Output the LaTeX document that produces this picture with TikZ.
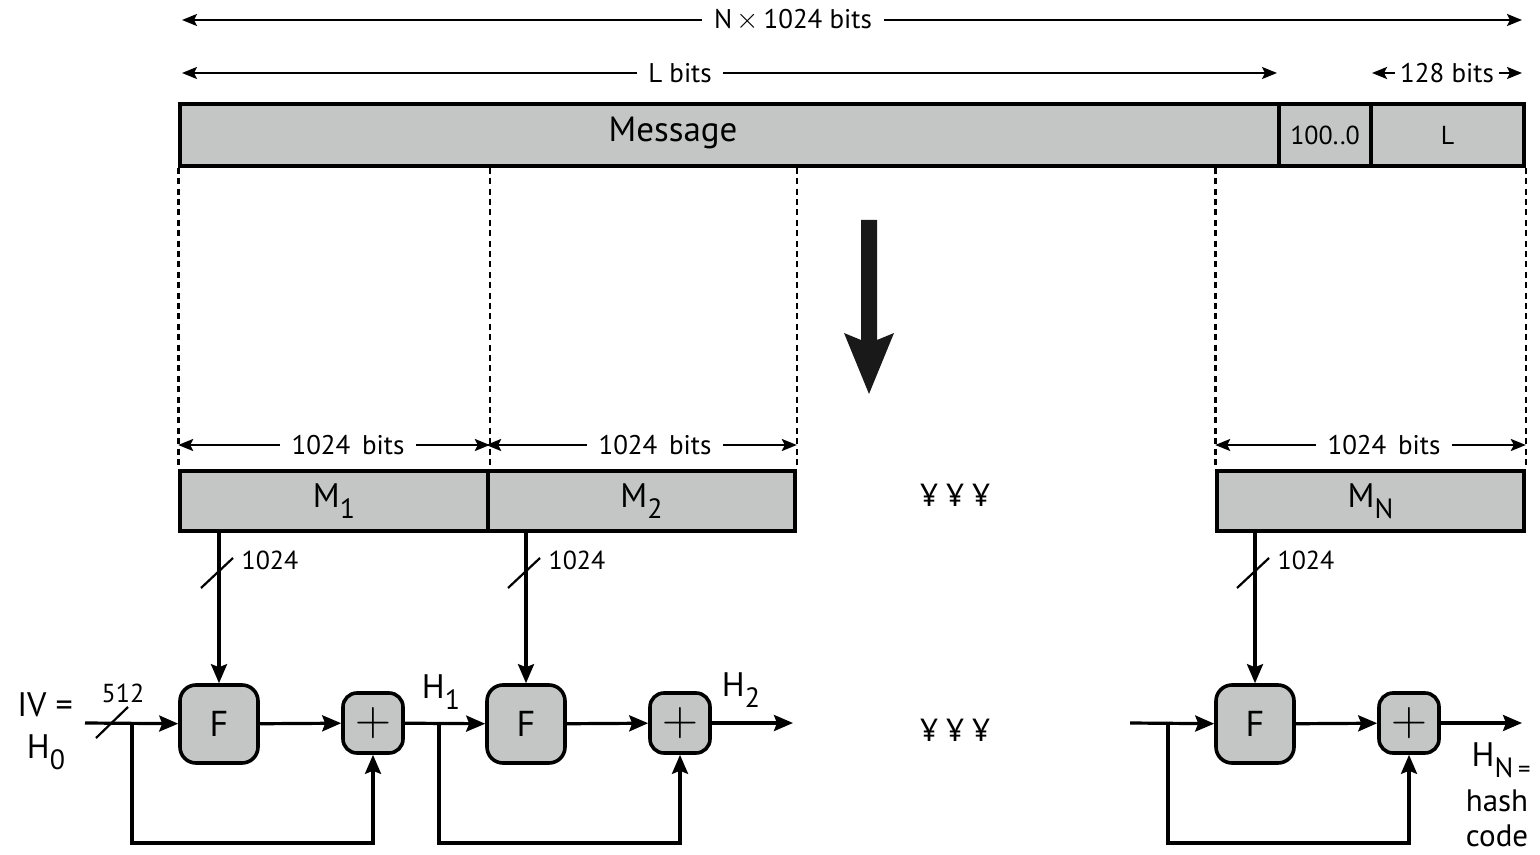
\documentclass[tikz,border=0pt]{standalone}
\usepackage{fontspec}
\setmainfont{PT Sans}
\usetikzlibrary{arrows.meta, positioning, calc}
\definecolor{boxgray}{RGB}{196,198,197}
\newcommand{\subsc}[1]{\raisebox{-0.32em}{\scalebox{0.82}{#1}}}
\newcommand{\fs}[1]{\fontsize{#1}{#1}\selectfont}

\begin{document}
\begin{tikzpicture}[x=0.5pt, y=-0.5pt, >={Stealth[length=9.5pt, width=8pt, inset=1.5pt]}, line width=1.6pt,
    blk/.style={draw, fill=boxgray, line width=1.8pt, inner sep=0pt},
    fbox/.style={draw, fill=boxgray, line width=1.8pt, rounded corners=8pt, minimum size=39pt, inner sep=0pt, font=\fs{18}},
    xorbox/.style={draw, fill=boxgray, line width=1.8pt, rounded corners=7pt, minimum size=30pt, inner sep=0pt, font=\fs{26}},
    dimtxt/.style={inner sep=5pt, font=\fs{13.5}},
    dimln/.style={line width=1.1pt, -{Stealth[length=7.5pt, width=6pt, inset=1.5pt]}},
    dotln/.style={line width=1.3pt, dash pattern=on 3pt off 2.2pt},
    smlbl/.style={inner sep=1pt, font=\fs{13}},
    biglbl/.style={inner sep=1pt, font=\fs{17}}]
    \useasboundingbox (0,0) rectangle (1540,855);

    % Bản tin đã đệm
    \node[blk, minimum width=549.5pt, minimum height=31pt] (msg) at (729.5,135) {};
    \node[blk, minimum width=46pt, minimum height=31pt, font=\fs{13}] (pad) at (1325,135) {\raisebox{-2pt}{100..0}};
    \node[blk, minimum width=76.5pt, minimum height=31pt, font=\fs{13}] (len) at (1447.5,135) {L};
    \node[font=\fs{17.5}] (msgtxt) at (673,133) {Message};

    % Kích thước phía trên
    \coordinate (nL) at (182,20);
    \coordinate (nR) at (1522,20);
    \node[dimtxt] (ntxt) at (793,20) {N\,$\times$\,1024 bits};
    \draw[dimln] (ntxt) -- (nL);
    \draw[dimln] (ntxt) -- (nR);
    \coordinate (lL) at (182,73);
    \coordinate (lR) at (1277,73);
    \node[dimtxt] (ltxt) at (680,73) {L bits};
    \draw[dimln] (ltxt) -- (lL);
    \draw[dimln] (ltxt) -- (lR);
    \coordinate (kL) at (1372,73);
    \coordinate (kR) at (1522,73);
    \node[dimtxt, inner sep=2pt, font=\fs{13.5}] (ktxt) at (1447,73) {128 bits};
    \draw[dimln] (ktxt) -- (kL);
    \draw[dimln] (ktxt) -- (kR);

    % Các khối M
    \node[blk, minimum width=154pt, minimum height=30pt, font=\fs{17}] (m1) at (334,501) {M\subsc{1}};
    \node[blk, minimum width=153.5pt, minimum height=30pt, font=\fs{17}] (m2) at (641.5,501) {M\subsc{2}};
    \node[blk, minimum width=153.5pt, minimum height=30pt, font=\fs{17}] (mN) at (1370.5,501) {M\subsc{N}};
    \node[font=\fs{16}] (dots1) at (955,495) {¥ ¥ ¥};

    % Đường chấm
    \draw[dotln] (msg.south west) -- (m1.north west);
    \draw[dotln] (m1.north east |- msg.south) -- (m1.north east);
    \draw[dotln] (m2.north east |- msg.south) -- (m2.north east);
    \draw[dotln] (mN.north west |- msg.south) -- (mN.north west);
    \draw[dotln] (len.south east) -- (mN.north east);

    % 1024 bits
    \node[dimtxt] (t1) at (348,445) {1024\, bits};
    \draw[dimln] (t1) -- (m1.north west |- t1);
    \draw[dimln] (t1) -- (m1.north east |- t1);
    \node[dimtxt] (t2) at (655,445) {1024\, bits};
    \draw[dimln] (t2) -- (m2.north west |- t2);
    \draw[dimln] (t2) -- (m2.north east |- t2);
    \node[dimtxt] (tN) at (1384,445) {1024\, bits};
    \draw[dimln] (tN) -- (mN.north west |- tN);
    \draw[dimln] (tN) -- (mN.north east |- tN);

    % Mũi tên lớn
    \fill[black!90] (861,220) -- (877,220) -- (877,340) -- (894,333) -- (869,394)
        -- (844,333) -- (861,340) -- cycle;

    % Hàm nén F và phép cộng
    \node[fbox] (f1) at (219,724) {F};
    \node[xorbox] (x1) at (373,723) {$+$};
    \node[fbox] (f2) at (526,724) {F};
    \node[xorbox] (x2) at (680,723) {$+$};
    \node[fbox] (fN) at (1255,724) {F};
    \node[xorbox] (xN) at (1409,723) {$+$};
    \node[font=\fs{16}] (dots2) at (955,730) {¥ ¥ ¥};

    % Đầu vào từ khối M
    \draw[->] (f1.north |- m1.south) -- (f1.north);
    \draw[->] (f2.north |- m2.south) -- (f2.north);
    \draw[->] (fN.north |- mN.south) -- (fN.north);
    \draw[line width=1.1pt] (201,588) -- (233,558);
    \draw[line width=1.1pt] (508,588) -- (540,558);
    \draw[line width=1.1pt] (1237,588) -- (1269,558);
    \node[smlbl, anchor=west] (w1) at (238,560) {1024};
    \node[smlbl, anchor=west] (w2) at (545,560) {1024};
    \node[smlbl, anchor=west] (wN) at (1274,560) {1024};

    % Chuỗi giá trị băm
    \coordinate (iv) at (85,723);
    \coordinate (b0) at (132,723);
    \coordinate (b1) at (439,723);
    \coordinate (h2end) at (793,723);
    \coordinate (hin) at (1130,723);
    \coordinate (bN) at (1168,723);
    \coordinate (hout) at (1522,723);
    \draw[->] (iv) -- (f1);
    \draw[->] (f1) -- (x1);
    \draw[->] (x1) -- (f2);
    \draw[->] (f2) -- (x2);
    \draw[->] (x2) -- (h2end);
    \draw[->] (hin) -- (fN);
    \draw[->] (fN) -- (xN);
    \draw[->] (xN) -- (hout);
    \draw[->] (b0) -- ++(0,120) -| (x1.south);
    \draw[->] (b1) -- ++(0,120) -| (x2.south);
    \draw[->] (bN) -- ++(0,120) -| (xN.south);
    \draw[line width=1.1pt] (96,738) -- (128,707);
    \node[smlbl] (w0) at (123,693) {512};

    % Nhãn
    \node[biglbl] (ivtxt) at (45,705) {IV =};
    \node[biglbl] (h0) at (46,752) {H\subsc{0}};
    \node[biglbl] (h1) at (441,692) {H\subsc{1}};
    \node[biglbl] (h2) at (741,690) {H\subsc{2}};
    \node[biglbl, anchor=east] (hN) at (1534,760) {H\subsc{N\,\fs{15}=}};
    \node[biglbl, font=\fs{15.5}] (hash) at (1497,801) {hash};
    \node[biglbl, font=\fs{15.5}] (code) at (1497,836) {code};
\end{tikzpicture}
\end{document}
